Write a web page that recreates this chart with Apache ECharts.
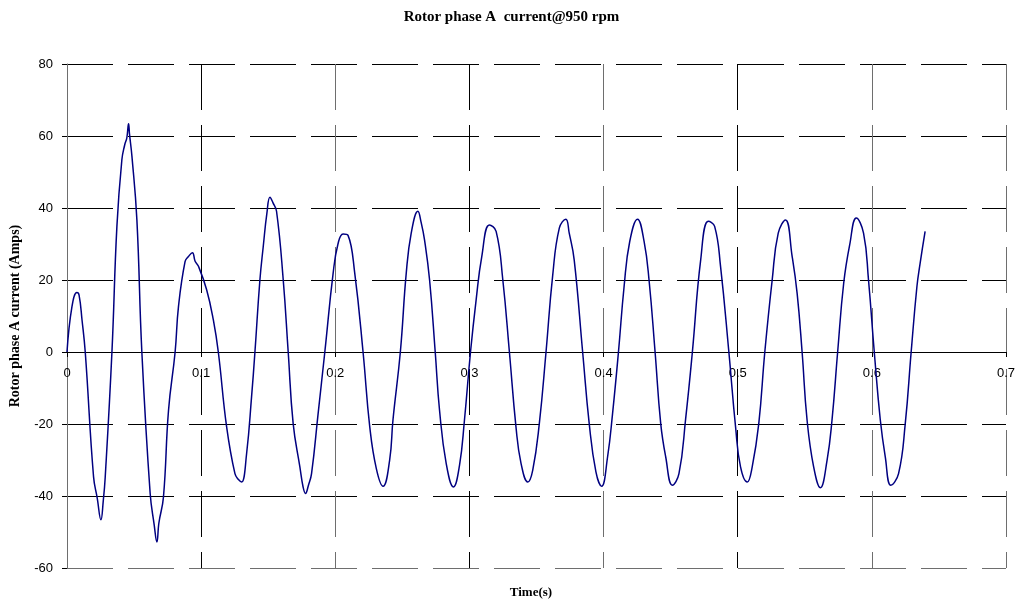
<!DOCTYPE html>
<html>
<head>
<meta charset="utf-8">
<title>Rotor phase A current@950 rpm</title>
<script src="https://cdn.jsdelivr.net/npm/echarts@6/dist/echarts.min.js"></script>
<style>
  html, body { margin: 0; padding: 0; background: #fff; }
  #chart { width: 1023px; height: 602px; }
</style>
</head>
<body>
<div id="chart"></div>
<script>
// Sampled rotor phase A current trace
const timeS = [
  0, 0.0037, 0.0074, 0.0090, 0.0112, 0.0136, 0.0198, 0.0225, 0.0253, 0.0270, 0.0285,
  0.0335, 0.0372, 0.0409, 0.0430, 0.0446, 0.0459, 0.0466, 0.0484, 0.0521, 0.0558,
  0.0620, 0.0650, 0.0670, 0.0685, 0.0719, 0.0757, 0.0806, 0.0831, 0.0880, 0.0905,
  0.0935, 0.0955, 0.0980, 0.1041, 0.1091, 0.1128, 0.1190, 0.1252, 0.1280, 0.1302,
  0.1339, 0.1376, 0.1401, 0.1438, 0.1463, 0.1490, 0.1513, 0.1535, 0.1562, 0.1612,
  0.1649, 0.1686, 0.1736, 0.1760, 0.1778, 0.1800, 0.1823, 0.1872, 0.1922, 0.1984,
  0.2020, 0.2058, 0.2095, 0.2145, 0.2207, 0.2257, 0.2306, 0.2356, 0.2405, 0.2430,
  0.2485, 0.2529, 0.2566, 0.2616, 0.2640, 0.2665, 0.2703, 0.2745, 0.2777, 0.2827,
  0.2881, 0.2926, 0.2963, 0.3008, 0.3050, 0.3092, 0.3149, 0.3199, 0.3249, 0.3298,
  0.3347, 0.3385, 0.3435, 0.3472, 0.3521, 0.3571, 0.3620, 0.3670, 0.3719, 0.3744,
  0.3781, 0.3844, 0.3893, 0.3943, 0.3985, 0.4030, 0.4067, 0.4111, 0.4153, 0.4195,
  0.4253, 0.4302, 0.4339, 0.4384, 0.4426, 0.4463, 0.4513, 0.4562, 0.4612, 0.4662,
  0.4724, 0.4781, 0.4828, 0.4872, 0.4934, 0.4984, 0.5021, 0.5071, 0.5108, 0.5157,
  0.5202, 0.5257, 0.5302, 0.5356, 0.5406, 0.5443, 0.5480, 0.5517, 0.5566, 0.5616,
  0.5666, 0.5703, 0.5745, 0.5790, 0.5835, 0.5884, 0.5938, 0.5975, 0.6018, 0.6063,
  0.6100, 0.6142, 0.6199, 0.6249, 0.6293, 0.6336, 0.6360, 0.6397
];
const currentA = [
  0, 12.6, 16.5, 15.8, 8.9, 0, -34.7, -40.5, -46.6, -41.5, -34.7,
  0, 34.9, 53.4, 57.5, 59.5, 63.4, 60.5, 54.4, 36.7, 0,
  -39.3, -48.0, -52.8, -47.5, -40.3, -16.1, 0, 12.6, 25.1, 26.5,
  27.6, 25.2, 23.8, 17.3, 8.9, 0, -20.8, -33.8, -35.5, -36.1,
  -28.2, -12.4, 0, 20.0, 29.3, 38.5, 43.0, 41.5, 39.1, 20.0,
  0, -19.9, -31.9, -37.5, -39.3, -37.0, -33.8, -17.1, 0, 21.9,
  30.0, 32.8, 32.4, 21.9, 0, -20.8, -32.4, -37.3, -30.1, -18.9,
  0, 21.9, 33.0, 39.1, 36.0, 31.2, 20.0, 0, -16.1, -31.0,
  -37.5, -31.5, -18.9, 0, 14.5, 26.5, 35.3, 33.5, 20.0, 0,
  -20.8, -31.0, -36.1, -32.8, -19.9, 0, 21.0, 34.4, 36.9, 33.0,
  25.6, 0, -19.9, -33.3, -37.3, -29.1, -17.1, 0, 18.2, 30.7,
  36.9, 30.7, 20.0, 0, -19.9, -29.1, -37.0, -33.8, -18.5, 0,
  25.6, 36.3, 34.9, 23.8, 0, -20.8, -31.9, -36.1, -31.9, -19.9,
  0, 20.0, 33.0, 36.7, 26.5, 16.3, 0, -18.9, -31.9, -37.7,
  -30.1, -18.9, 0, 19.1, 29.8, 37.2, 33.0, 20.0, 0, -18.9,
  -29.1, -37.0, -33.8, -19.9, 0, 18.2, 24.7, 33.5
];

// Axis ticks
const xTicks = [0, 0.1, 0.2, 0.3, 0.4, 0.5, 0.6, 0.7];
const yTicks = [-60, -40, -20, 0, 20, 40, 60, 80];

const chartTitle = 'Rotor phase A  current@950 rpm';
const xName = 'Time(s)';
const yName = 'Rotor phase A current (Amps)';

const seriesData = timeS.map((t, i) => [t, currentA[i]]);

const GRID_TOP = 64;
const GRID_BOTTOM = 34;
const CHART_H = 602;

const chart = echarts.init(document.getElementById('chart'), null, { renderer: 'canvas' });

// The time axis sits on the zero current line: shift it up from the plot's bottom edge
const yMin = yTicks[0];
const yMax = yTicks[yTicks.length - 1];
const plotH = CHART_H - GRID_TOP - GRID_BOTTOM;
const zeroShift = plotH * (0 - yMin) / (yMax - yMin);

const serif = '"Liberation Serif", "Times New Roman", serif';
const sans = '"Liberation Sans", Arial, sans-serif';
const dash = [46, 15];

chart.setOption({
  backgroundColor: '#ffffff',
  animation: false,
  title: {
    text: chartTitle,
    left: 'center',
    top: 5,
    textStyle: { fontFamily: serif, fontWeight: 'bold', fontSize: 15, color: '#000' }
  },
  grid: { left: 65, right: 17, top: GRID_TOP, bottom: GRID_BOTTOM, containLabel: false },
  xAxis: {
    type: 'value',
    min: xTicks[0],
    max: xTicks[xTicks.length - 1],
    interval: 0.1,
    position: 'bottom',
    offset: -zeroShift,
    axisLine: { onZero: false, lineStyle: { color: '#000', width: 1 } },
    axisTick: { show: true, length: 5, inside: false, lineStyle: { color: '#000' } },
    axisLabel: {
      margin: 15,
      fontFamily: sans,
      fontSize: 13,
      color: '#000',
      formatter: v => String(Math.round(v * 10) / 10)
    },
    splitLine: {
      show: true,
      lineStyle: {
        type: dash,
        width: 1,
        color: ['#6e6e6e', '#000', '#6e6e6e', '#000', '#6e6e6e', '#000', '#6e6e6e', '#6e6e6e']
      }
    }
  },
  yAxis: {
    type: 'value',
    min: yMin,
    max: yMax,
    interval: 20,
    name: yName,
    nameLocation: 'middle',
    nameRotate: 90,
    nameGap: 45,
    nameTextStyle: { fontFamily: serif, fontWeight: 'bold', fontSize: 14, color: '#000' },
    axisLine: { show: true, onZero: false, lineStyle: { color: '#6e6e6e', width: 1 } },
    axisTick: { show: true, length: 5, inside: false, lineStyle: { color: '#000' } },
    axisLabel: { margin: 14, fontFamily: sans, fontSize: 13, color: '#000' },
    splitLine: {
      show: true,
      lineStyle: {
        type: dash,
        width: 1,
        color: ['#6e6e6e', '#000', '#000', '#000', '#000', '#000', '#000', '#000']
      }
    }
  },
  graphic: [{
    type: 'text',
    x: 531,
    y: 586,
    style: {
      text: xName,
      fontFamily: serif,
      fontWeight: 'bold',
      fontSize: 13,
      fill: '#000',
      align: 'center',
      textAlign: 'center'
    }
  }],
  series: [{
    type: 'line',
    data: seriesData,
    showSymbol: false,
    smooth: 0.45,
    lineStyle: { color: '#000080', width: 1.5 },
    z: 3
  }]
});
</script>
</body>
</html>
